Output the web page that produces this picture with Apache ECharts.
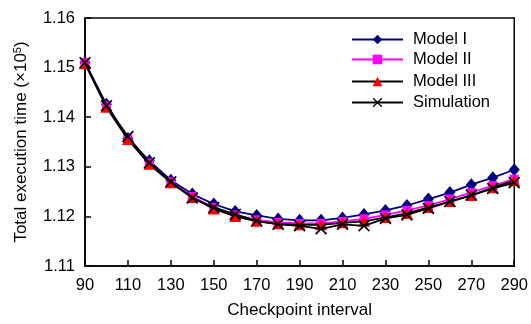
<!DOCTYPE html>
<html>
<head>
<meta charset="utf-8">
<script src="https://cdn.jsdelivr.net/npm/echarts@6/dist/echarts.min.js"></script>
<style>html,body{margin:0;padding:0;background:#fff}#c{width:531px;height:324px}</style>
</head>
<body>
<div id="c"></div>
<script>
var intervals = [90,100,110,120,130,140,150,160,170,180,190,200,210,220,230,240,250,260,270,280,290];
var modelI =    [1.1510,1.1426,1.1357,1.1312,1.1273,1.1245,1.1225,1.1210,1.1202,1.1195,1.1192,1.1192,1.1197,1.1204,1.1212,1.1222,1.1235,1.1248,1.1264,1.1278,1.1294];
var modelII =   [1.1510,1.1423,1.1356,1.1308,1.1270,1.1240,1.1218,1.1203,1.1193,1.1188,1.1186,1.1186,1.1190,1.1195,1.1203,1.1212,1.1222,1.1235,1.1248,1.1262,1.1275];
var modelIII =  [1.1508,1.1420,1.1355,1.1305,1.1268,1.1238,1.1215,1.1200,1.1190,1.1185,1.1183,1.1183,1.1187,1.1190,1.1198,1.1206,1.1218,1.1230,1.1242,1.1258,1.1272];
var simulation =[1.1510,1.1423,1.1361,1.1308,1.1270,1.1237,1.1218,1.1204,1.1191,1.1184,1.1181,1.1175,1.1184,1.1181,1.1196,1.1203,1.1216,1.1230,1.1243,1.1256,1.1268];
var yTicks = [1.11,1.12,1.13,1.14,1.15,1.16];
var xTicks = [90,110,130,150,170,190,210,230,250,270,290];

function pairs(arr){ return intervals.map(function(x,i){ return [x, arr[i]]; }); }
var crossPath = 'path://M0,1 L1,0 L5,4 L9,0 L10,1 L6,5 L10,9 L9,10 L5,6 L1,10 L0,9 L4,5 Z';
var FONT = '"Liberation Sans", Arial, sans-serif';

var chart = echarts.init(document.getElementById('c'), null, {renderer:'canvas'});
function legendAt(name, centerY){
  return {
    data:[name], left:351, top:centerY - 6, orient:'vertical', padding:0,
    itemWidth:51, itemHeight:12, itemGap:0,
    textStyle:{fontFamily:FONT, fontSize:16.5, color:'#000', padding:[0,0,0,5]},
    selectedMode:false
  };
}
chart.setOption({
  animation:false,
  backgroundColor:'#fff',
  grid:{left:85, right:15, top:18, bottom:51, show:true, borderColor:'#000', borderWidth:1.5, backgroundColor:'transparent'},
  legend:[
    legendAt('Model I', 37),
    legendAt('Model II', 57),
    legendAt('Model III', 79),
    legendAt('Simulation', 100)
  ],
  xAxis:{
    type:'value', min:90, max:290, interval:20,
    name:'Checkpoint interval', nameLocation:'middle', nameGap:36,
    nameTextStyle:{fontFamily:FONT, fontSize:17, color:'#000'},
    axisLine:{lineStyle:{color:'#000', width:1.5}},
    axisTick:{inside:true, length:6, lineStyle:{color:'#000', width:1.5}},
    axisLabel:{fontFamily:FONT, fontSize:16.5, color:'#000', margin:11,
      customValues:xTicks},
    splitLine:{show:false}
  },
  yAxis:{
    type:'value', min:1.11, max:1.16, interval:0.01,
    name:'{a|Total execution time (×10}{s|5}{a|)}', nameLocation:'middle', nameGap:54, nameRotate:90,
    nameTextStyle:{rich:{
      a:{fontFamily:FONT, fontSize:17, color:'#000'},
      s:{fontFamily:FONT, fontSize:11, color:'#000', verticalAlign:'top', padding:[0,0,8,0]}
    }},
    axisLine:{lineStyle:{color:'#000', width:1.5}},
    axisTick:{inside:true, length:6, lineStyle:{color:'#000', width:1.5}},
    axisLabel:{fontFamily:FONT, fontSize:16.5, color:'#000', margin:10,
      formatter:function(v){ return v.toFixed(2); }},
    splitLine:{show:false}
  },
  series:[
    {name:'Model I', type:'line', data:pairs(modelI), symbol:'diamond', symbolSize:[11,13],
      lineStyle:{color:'#000080', width:1.8}, itemStyle:{color:'#000080'}, z:2},
    {name:'Model II', type:'line', data:pairs(modelII), symbol:'rect', symbolSize:9,
      lineStyle:{color:'#ff00ff', width:1.8}, itemStyle:{color:'#ff00ff'}, z:3},
    {name:'Model III', type:'line', data:pairs(modelIII), symbol:'triangle', symbolSize:[12,11],
      lineStyle:{color:'#000', width:1.8}, itemStyle:{color:'#ff0000'}, z:4},
    {name:'Simulation', type:'line', data:pairs(simulation), symbol:crossPath, symbolSize:12,
      lineStyle:{color:'#000', width:1.8}, itemStyle:{color:'#000'}, z:5}
  ]
});
</script>
</body>
</html>
